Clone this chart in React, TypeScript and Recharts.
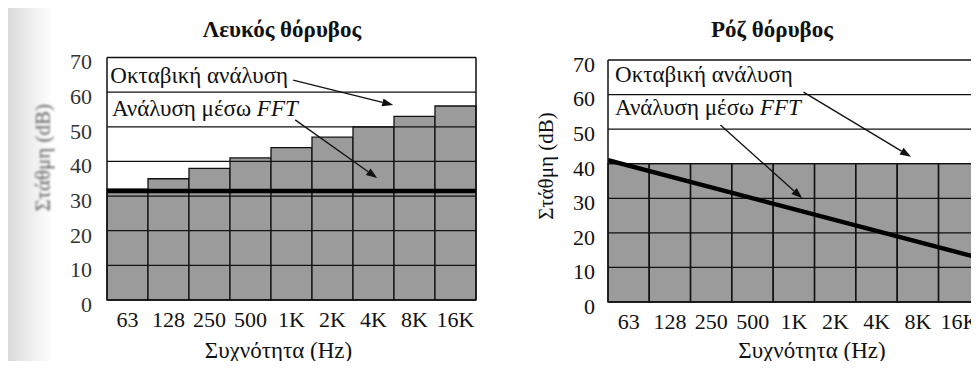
import {
  Bar,
  ComposedChart,
  Label,
  Line,
  ReferenceDot,
  ReferenceLine,
  XAxis,
  YAxis,
} from "recharts";

const bands = ["63", "128", "250", "500", "1K", "2K", "4K", "8K", "16K"];
const whiteOctave = [32, 35, 38, 41, 44, 47, 50, 53, 56];
const pinkOctave = [40, 40, 40, 40, 40, 40, 40, 40, 40];
// FFT level at the two ends of the band axis (0 = left edge, 9 = right edge)
const fftEnds = [0, 9];
const whiteFft = [31.5, 31.5];
const pinkFft = [41, 12.7];
const levelTicks = [0, 10, 20, 30, 40, 50, 60, 70];
const gridLevels = [10, 20, 30, 40, 50, 60, 70];

const SERIF = '"Liberation Serif", "DejaVu Serif", serif';
const INK = "#111";
const FILL = "#9b9b9b";

type Note = { x: number; y: number; text: string; italic?: string };
type Arrow = { from: { x: number; y: number }; to: { x: number; y: number } };

const ArrowShape = (p: any) => {
  const { x1, y1, x2, y2 } = p;
  const a = Math.atan2(y2 - y1, x2 - x1);
  const len = 11;
  const half = 4;
  const bx = x2 - len * Math.cos(a);
  const by = y2 - len * Math.sin(a);
  const pts = [
    [x2, y2],
    [bx - half * Math.sin(a), by + half * Math.cos(a)],
    [bx + half * Math.sin(a), by - half * Math.cos(a)],
  ]
    .map((q) => q.join(","))
    .join(" ");
  return (
    <g>
      <line x1={x1} y1={y1} x2={bx} y2={by} stroke={INK} strokeWidth={1.3} />
      <polygon points={pts} fill={INK} />
    </g>
  );
};

const noteShape = (n: Note) => (p: any) => (
  <text x={p.cx} y={p.cy} fontFamily={SERIF} fontSize={23} fill={INK}>
    {n.text}
    {n.italic && <tspan fontStyle="italic">{n.italic}</tspan>}
  </text>
);

type PanelProps = {
  title: string;
  octave: number[];
  fft: number[];
  left: number;
  width: number;
  top: number;
  right: number;
  yAxisWidth: number;
  tickGap: number;
  titleX: number;
  xLabelDx: number;
  // rotated y title: dx/dy move both the pivot and the glyphs
  yLabelDx: number;
  yLabelDy: number;
  notes: Note[];
  arrows: Arrow[];
  soft?: boolean;
};

function NoisePanel(props: PanelProps) {
  const rows = bands.map((band, i) => ({ band, octave: props.octave[i] }));
  const fftRows = fftEnds.map((x, i) => ({ x, level: props.fft[i] }));
  const height = 369;
  return (
    <>
      <div
        style={{
          position: "absolute",
          left: props.titleX,
          top: 18,
          transform: "translateX(-50%)",
          whiteSpace: "nowrap",
          fontFamily: SERIF,
          fontWeight: "bold",
          fontSize: 23,
          lineHeight: "23px",
          color: INK,
        }}
      >
        {props.title}
      </div>
      <div style={{ position: "absolute", left: props.left, top: 0 }}>
        <ComposedChart
          width={props.width}
          height={height}
          data={rows}
          barCategoryGap={0}
          barGap={0}
          margin={{ top: props.top, right: props.right, bottom: 0, left: 0 }}
        >
          <XAxis
            dataKey="band"
            height={props.top === 60 ? 67 : 69}
            tickSize={0}
            tickMargin={11}
            axisLine={{ stroke: INK, strokeWidth: 1.5 }}
            tick={{ fontFamily: SERIF, fontSize: 22, fill: INK }}
            interval={0}
          >
            <Label
              value="Συχνότητα (Hz)"
              position="insideBottom"
              offset={11}
              dx={props.xLabelDx}
              style={{ fontFamily: SERIF, fontSize: 23, fill: INK }}
            />
          </XAxis>
          <XAxis
            xAxisId="fft"
            dataKey="x"
            type="number"
            domain={[0, 9]}
            allowDataOverflow
            hide
          />
          <YAxis
            type="number"
            domain={[0, 70]}
            ticks={levelTicks}
            interval={0}
            width={props.yAxisWidth}
            tickSize={0}
            tickMargin={props.tickGap}
            axisLine={{ stroke: INK, strokeWidth: 1.5 }}
            tick={{
              fontFamily: SERIF,
              fontSize: 22,
              fill: props.soft ? "#333" : INK,
              dy: 4,
            }}
          >
            <Label
              value="Στάθμη (dB)"
              position="center"
              angle={-90}
              dx={props.yLabelDx}
              dy={props.yLabelDy}
              style={{
                fontFamily: SERIF,
                fontSize: 21,
                fill: props.soft ? "#5e5e5e" : INK,
                filter: props.soft ? "blur(1.2px)" : undefined,
              }}
            />
          </YAxis>
          <Bar
            dataKey="octave"
            fill={FILL}
            stroke={INK}
            strokeWidth={1.3}
            isAnimationActive={false}
          />
          {gridLevels.map((v) => (
            <ReferenceLine
              key={v}
              y={v}
              stroke={INK}
              strokeWidth={1.3}
              zIndex={350}
            />
          ))}
          <ReferenceLine
            xAxisId="fft"
            x={9}
            stroke={INK}
            strokeWidth={1.5}
            zIndex={350}
          />
          <Line
            xAxisId="fft"
            data={fftRows}
            dataKey="level"
            type="linear"
            stroke="#000"
            strokeWidth={4.5}
            dot={false}
            isAnimationActive={false}
          />
          {props.arrows.map((a, i) => (
            <ReferenceLine
              key={"a" + i}
              xAxisId="fft"
              segment={[a.from, a.to]}
              shape={ArrowShape}
              zIndex={600}
            />
          ))}
          {props.notes.map((n, i) => (
            <ReferenceDot
              key={"n" + i}
              xAxisId="fft"
              x={n.x}
              y={n.y}
              r={0}
              shape={noteShape(n)}
              zIndex={600}
            />
          ))}
        </ComposedChart>
      </div>
    </>
  );
}

export default function App() {
  return (
    <div
      style={{
        position: "relative",
        width: 979,
        height: 369,
        margin: -8,
        overflow: "hidden",
        background: "#fff",
      }}
    >
      <div
        style={{
          position: "absolute",
          left: 7,
          top: 8,
          width: 45,
          height: 361,
          background: "linear-gradient(to right, #dadada, #ffffff)",
        }}
      />
      <NoisePanel
        title="Λευκός θόρυβος"
        octave={whiteOctave}
        fft={whiteFft}
        left={0}
        width={490}
        top={57.5}
        right={14}
        yAxisWidth={107}
        tickGap={15}
        titleX={282}
        xLabelDx={-13}
        yLabelDx={-11}
        yLabelDy={-21}
        soft
        notes={[
          { x: 0.08, y: 62.6, text: "Οκταβική ανάλυση" },
          { x: 0.12, y: 53.1, text: "Ανάλυση μέσω ", italic: "FFT" },
        ]}
        arrows={[
          { from: { x: 4.54, y: 63.5 }, to: { x: 6.98, y: 56.3 } },
          { from: { x: 4.59, y: 52 }, to: { x: 6.59, y: 35.2 } },
        ]}
      />
      <NoisePanel
        title="Ρόζ θόρυβος"
        octave={pinkOctave}
        fft={pinkFft}
        left={490}
        width={495}
        top={60}
        right={5}
        yAxisWidth={118}
        tickGap={13}
        titleX={772}
        xLabelDx={18}
        yLabelDx={-3}
        yLabelDy={-15}
        notes={[
          { x: 0.17, y: 63.6, text: "Οκταβική ανάλυση" },
          { x: 0.17, y: 54.1, text: "Ανάλυση μέσω ", italic: "FFT" },
        ]}
        arrows={[
          { from: { x: 4.73, y: 60.7 }, to: { x: 7.33, y: 42 } },
          { from: { x: 2.72, y: 51.2 }, to: { x: 4.7, y: 30 } },
        ]}
      />
    </div>
  );
}
